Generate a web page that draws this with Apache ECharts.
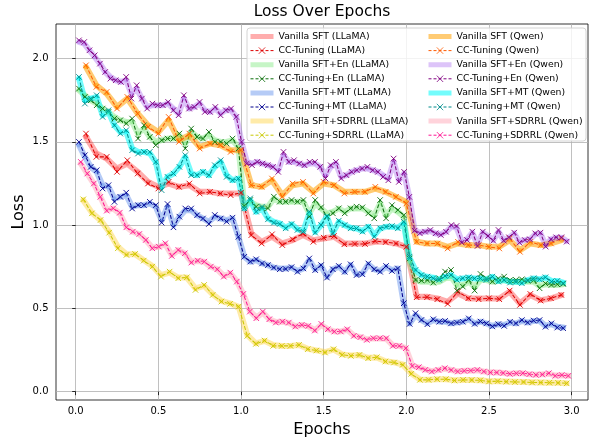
<!DOCTYPE html>
<html><head><meta charset="utf-8">
<script src="https://cdn.jsdelivr.net/npm/echarts@6/dist/echarts.min.js"></script>
<style>html,body{margin:0;padding:0;background:#fff}#c{width:594px;height:441px}</style>
</head><body><div id="c"></div>
<script>
// ---- tick labels ----
const xTicks = [0, 0.5, 1, 1.5, 2, 2.5, 3];
const yTicks = [0, 0.5, 1, 1.5, 2];

// ---- logged-step epoch spans per run: [number of logged points, first epoch, last epoch] ----
const spanSft = [47, 0.0625, 2.9375];
const spanEnQwen = [94, 0.02, 2.97];
const spanMid = [83, 0.02, 2.949];
const spanSdrrlLlama = [57, 0.046, 2.97];
const spanSdrrlQwen = [76, 0.031, 2.98];

// ---- LLaMA ----
const vanSftLlama = [1.53,1.43,1.40,1.34,1.37,1.32,1.26,1.23,1.25,1.23,1.24,1.20,1.20,1.19,1.19,1.19,
 0.95,0.90,0.93,0.89,0.91,0.94,0.91,0.92,0.93,0.89,0.89,0.89,0.90,0.90,0.89,0.87,
 0.57,0.57,0.56,0.54,0.59,0.56,0.56,0.56,0.56,0.60,0.53,0.58,0.55,0.56,0.58];
const ccSftLlama = [1.55,1.41,1.41,1.32,1.39,1.31,1.25,1.22,1.26,1.23,1.25,1.19,1.20,1.19,1.18,1.195,
 0.94,0.89,0.945,0.88,0.915,0.95,0.90,0.925,0.935,0.885,0.887,0.887,0.905,0.898,0.89,0.87,
 0.567,0.567,0.555,0.527,0.601,0.561,0.555,0.561,0.555,0.607,0.521,0.587,0.547,0.561,0.581];
const vanEnLlama = [1.81,1.78,1.75,1.73,1.70,1.68,1.65,1.63,1.62,1.62,1.55,1.58,1.53,1.50,1.51,1.52,1.52,1.54,1.49,1.56,1.53,1.52,1.54,1.51,1.50,1.50,1.51,1.47,
 1.12,1.14,1.12,1.11,1.11,1.16,1.14,1.14,1.14,1.14,1.14,1.07,1.13,1.10,1.07,1.08,1.10,1.08,1.10,1.10,1.10,1.08,1.06,1.13,1.06,1.10,1.08,1.05,
 0.78,0.67,0.66,0.66,0.655,0.66,0.68,0.69,0.64,0.64,0.66,0.63,0.67,0.67,0.66,0.665,0.67,0.66,0.66,0.665,0.66,0.66,0.635,0.645,0.64,0.64,0.645];
const ccEnLlama = [1.82,1.77,1.75,1.72,1.70,1.68,1.64,1.63,1.61,1.64,1.52,1.60,1.53,1.48,1.51,1.52,1.52,1.55,1.46,1.58,1.53,1.52,1.56,1.50,1.50,1.49,1.52,1.46,
 1.115,1.151,1.111,1.101,1.101,1.171,1.141,1.141,1.151,1.141,1.151,1.051,1.151,1.107,1.051,1.071,1.101,1.071,1.101,1.111,1.107,1.071,1.041,1.151,1.041,1.12,1.091,1.06,
 0.80,0.671,0.667,0.67,0.655,0.68,0.721,0.731,0.607,0.631,0.671,0.607,0.707,0.681,0.661,0.68,0.691,0.67,0.671,0.675,0.665,0.67,0.621,0.65,0.641,0.645,0.647];
const vanMtLlama = [1.48,1.41,1.35,1.32,1.24,1.23,1.16,1.17,1.18,1.11,1.12,1.12,1.13,1.11,1.03,1.11,1.00,1.05,1.09,1.09,1.06,1.04,1.02,1.05,1.04,1.03,1.04,0.93,
 0.81,0.78,0.79,0.77,0.76,0.745,0.74,0.74,0.745,0.725,0.74,0.79,0.735,0.755,0.69,0.735,0.75,0.72,0.76,0.705,0.71,0.765,0.735,0.725,0.75,0.73,0.74,0.53,
 0.41,0.46,0.43,0.41,0.43,0.42,0.42,0.41,0.415,0.42,0.435,0.41,0.42,0.41,0.395,0.405,0.40,0.415,0.41,0.425,0.415,0.425,0.425,0.395,0.405,0.39,0.385];
const ccMtLlama = [1.50,1.42,1.35,1.33,1.22,1.24,1.14,1.17,1.195,1.10,1.12,1.12,1.14,1.12,1.015,1.127,0.987,1.051,1.10,1.10,1.06,1.04,1.007,1.061,1.04,1.021,1.045,0.93,
 0.81,0.781,0.795,0.77,0.76,0.745,0.735,0.737,0.748,0.72,0.74,0.80,0.73,0.76,0.685,0.735,0.755,0.72,0.765,0.70,0.705,0.77,0.735,0.72,0.755,0.725,0.74,0.531,
 0.407,0.471,0.431,0.405,0.435,0.42,0.425,0.41,0.415,0.42,0.44,0.407,0.421,0.41,0.392,0.405,0.395,0.42,0.41,0.43,0.415,0.427,0.43,0.39,0.41,0.385,0.381];
const vanSdrrlLlama = [1.15,1.075,1.03,0.96,0.87,0.825,0.825,0.79,0.755,0.70,0.715,0.685,0.685,0.62,0.635,0.585,0.545,0.53,0.51,
 0.34,0.29,0.305,0.28,0.275,0.275,0.28,0.258,0.248,0.238,0.252,0.224,0.218,0.22,0.203,0.205,0.183,0.176,0.163,
 0.11,
 0.073,0.072,0.075,0.074,0.069,0.07,0.07,0.068,0.063,0.063,0.061,0.059,0.058,0.056,0.055,0.054,0.053,0.051];
const ccSdrrlLlama = [1.155,1.071,1.031,0.955,0.861,0.821,0.827,0.787,0.751,0.691,0.721,0.681,0.687,0.611,0.641,0.581,0.541,0.527,0.511,
 0.335,0.287,0.307,0.275,0.275,0.275,0.281,0.255,0.247,0.235,0.255,0.221,0.215,0.221,0.201,0.207,0.181,0.175,0.161,
 0.107,
 0.071,0.071,0.075,0.075,0.067,0.071,0.07,0.068,0.061,0.063,0.06,0.058,0.058,0.055,0.055,0.054,0.053,0.05];

// ---- Qwen ----
const vanSftQwen = [1.95,1.84,1.79,1.71,1.76,1.67,1.60,1.56,1.63,1.51,1.54,1.47,1.49,1.48,1.45,1.45,
 1.24,1.23,1.27,1.18,1.24,1.25,1.20,1.25,1.24,1.20,1.20,1.20,1.22,1.20,1.17,1.14,
 0.90,0.89,0.89,0.87,0.89,0.88,0.88,0.87,0.87,0.91,0.85,0.89,0.88,0.89,0.91];
const ccSftQwen = [1.96,1.83,1.80,1.70,1.77,1.67,1.59,1.55,1.65,1.50,1.55,1.46,1.49,1.48,1.44,1.45,
 1.24,1.23,1.28,1.17,1.25,1.26,1.19,1.26,1.24,1.19,1.20,1.20,1.23,1.20,1.17,1.13,
 0.90,0.89,0.89,0.86,0.90,0.88,0.88,0.87,0.86,0.92,0.84,0.90,0.88,0.89,0.92];
const vanEnQwen = [2.10,2.09,2.05,2.01,1.97,1.92,1.89,1.87,1.86,1.87,1.79,1.82,1.76,1.71,1.72,1.72,1.72,1.73,1.70,1.67,1.76,1.70,1.71,1.73,1.69,1.68,1.70,1.67,1.69,1.69,1.65,
 1.50,
 1.38,1.37,1.38,1.37,1.36,1.35,1.33,1.42,1.38,1.38,1.37,1.36,1.37,1.37,1.35,1.30,1.35,1.37,1.29,1.30,1.32,1.33,1.34,1.34,1.33,1.32,1.30,1.28,1.38,1.27,1.31,
 1.17,
 0.97,0.955,0.96,0.965,0.95,0.945,0.96,0.99,0.985,0.905,0.915,0.955,0.885,0.955,0.935,0.91,0.96,0.91,0.925,0.95,0.90,0.91,0.915,0.945,0.95,0.88,0.915,0.925,0.925,0.905];
const ccEnQwen = [2.11,2.10,2.05,2.02,1.97,1.92,1.88,1.87,1.86,1.89,1.76,1.84,1.76,1.70,1.73,1.72,1.72,1.74,1.69,1.66,1.78,1.70,1.71,1.74,1.68,1.68,1.71,1.66,1.69,1.70,1.65,
 1.50,
 1.37,1.36,1.38,1.37,1.36,1.35,1.32,1.44,1.38,1.39,1.37,1.36,1.38,1.38,1.35,1.28,1.36,1.38,1.28,1.30,1.32,1.33,1.34,1.35,1.33,1.32,1.29,1.27,1.40,1.26,1.32,
 1.17,
 0.967,0.951,0.961,0.971,0.951,0.941,0.96,1.001,0.995,0.895,0.911,0.961,0.875,0.961,0.935,0.907,0.971,0.907,0.927,0.955,0.895,0.911,0.915,0.951,0.955,0.871,0.915,0.927,0.927,0.901];
const vanMtQwen = [1.88,1.75,1.76,1.77,1.66,1.68,1.60,1.56,1.56,1.46,1.44,1.44,1.43,1.38,1.23,1.29,1.31,1.35,1.41,1.31,1.30,1.32,1.30,1.35,1.38,1.30,1.27,1.28,
 1.10,1.15,1.08,1.10,1.04,1.02,1.01,0.985,1.005,0.975,0.965,1.07,0.96,1.00,1.05,0.955,1.02,1.00,0.985,0.98,0.965,0.99,0.94,0.98,0.99,0.99,0.985,1.01,
 0.80,0.73,0.70,0.69,0.685,0.675,0.69,0.70,0.675,0.68,0.685,0.68,0.68,0.675,0.69,0.665,0.67,0.66,0.66,0.655,0.67,0.68,0.675,0.685,0.665,0.665,0.655];
const ccMtQwen = [1.89,1.73,1.76,1.78,1.65,1.69,1.60,1.55,1.57,1.45,1.43,1.44,1.44,1.38,1.21,1.29,1.31,1.35,1.42,1.30,1.30,1.32,1.30,1.36,1.39,1.29,1.27,1.28,
 1.101,1.161,1.081,1.111,1.035,1.015,1.007,0.981,1.007,0.971,0.961,1.081,0.955,1.001,1.055,0.951,1.027,1.001,0.981,0.98,0.961,0.991,0.931,0.981,0.991,0.995,0.981,1.021,
 0.811,0.731,0.701,0.691,0.681,0.671,0.695,0.701,0.671,0.681,0.687,0.68,0.68,0.671,0.691,0.661,0.67,0.655,0.66,0.651,0.67,0.681,0.675,0.687,0.661,0.665,0.651];
const vanSdrrlQwen = [1.37,1.31,1.25,1.17,1.09,1.10,1.07,0.99,0.96,0.945,0.91,0.865,0.87,0.885,0.82,0.85,0.83,0.78,0.785,0.78,0.75,0.735,0.695,0.71,0.665,
 0.585,0.485,0.445,0.475,0.435,0.418,0.42,0.413,0.393,0.40,0.393,0.37,0.40,0.375,0.362,0.362,0.372,0.338,0.328,0.314,0.32,0.32,0.318,0.278,0.275,0.262,
 0.155,0.146,0.132,0.123,0.13,0.138,0.13,0.122,0.125,0.126,0.129,0.121,0.116,0.115,0.112,0.108,0.11,0.11,0.105,0.102,0.104,0.108,0.097,0.099,0.096];
const ccSdrrlQwen = [1.38,1.31,1.25,1.17,1.087,1.101,1.075,0.987,0.961,0.947,0.911,0.861,0.871,0.891,0.815,0.851,0.831,0.775,0.787,0.781,0.751,0.735,0.691,0.715,0.661,
 0.587,0.481,0.441,0.481,0.435,0.415,0.421,0.415,0.391,0.401,0.395,0.367,0.407,0.375,0.361,0.361,0.375,0.335,0.327,0.311,0.321,0.321,0.321,0.275,0.275,0.261,
 0.154,0.147,0.131,0.121,0.131,0.141,0.13,0.121,0.125,0.127,0.131,0.121,0.115,0.115,0.112,0.107,0.11,0.111,0.105,0.101,0.103,0.111,0.095,0.1,0.095];

// ---- build ----
function epochs(span){ const [n,a,b]=span; const r=[]; for(let i=0;i<n;i++) r.push(a+(b-a)*i/(n-1)); return r; }
function pairs(span, ys){ const xs=epochs(span); return ys.map((y,i)=>[xs[i], y]); }
const XMARK = 'path://M0,0L10,10M10,0L0,10';
// thick translucent swatch (with invisible bound points so it sits centred in the 23x8 legend box)
const BAND = 'path://M0,0L0.01,0L0,0ZM0,1.5L23,1.5L23,6.5L0,6.5ZM0,8L0.01,8L0,8Z';
const FONT = 'DejaVu Sans';

const runs = [
  ['Vanilla SFT (LLaMA)', 'v', 'rgba(255,40,40,0.38)', spanSft, vanSftLlama],
  ['CC-Tuning (LLaMA)', 'c', '#dd0000', spanSft, ccSftLlama],
  ['Vanilla SFT+En (LLaMA)', 'v', 'rgba(120,230,120,0.42)', spanMid, vanEnLlama],
  ['CC-Tuning+En (LLaMA)', 'c', '#0b6e0b', spanMid, ccEnLlama],
  ['Vanilla SFT+MT (LLaMA)', 'v', 'rgba(90,140,235,0.45)', spanMid, vanMtLlama],
  ['CC-Tuning+MT (LLaMA)', 'c', '#00008f', spanMid, ccMtLlama],
  ['Vanilla SFT+SDRRL (LLaMA)', 'v', 'rgba(255,205,40,0.4)', spanSdrrlLlama, vanSdrrlLlama],
  ['CC-Tuning+SDRRL (LLaMA)', 'c', '#c8c800', spanSdrrlLlama, ccSdrrlLlama],
  ['Vanilla SFT (Qwen)', 'v', 'rgba(255,160,0,0.55)', spanSft, vanSftQwen],
  ['CC-Tuning (Qwen)', 'c', '#ff5a00', spanSft, ccSftQwen],
  ['Vanilla SFT+En (Qwen)', 'v', 'rgba(165,100,240,0.38)', spanEnQwen, vanEnQwen],
  ['CC-Tuning+En (Qwen)', 'c', '#800080', spanEnQwen, ccEnQwen],
  ['Vanilla SFT+MT (Qwen)', 'v', 'rgba(0,250,250,0.55)', spanMid, vanMtQwen],
  ['CC-Tuning+MT (Qwen)', 'c', '#008b8b', spanMid, ccMtQwen],
  ['Vanilla SFT+SDRRL (Qwen)', 'v', 'rgba(255,175,190,0.55)', spanSdrrlQwen, vanSdrrlQwen],
  ['CC-Tuning+SDRRL (Qwen)', 'c', '#ff1493', spanSdrrlQwen, ccSdrrlQwen]
];

const series = runs.map(([name, kind, color, span, ys]) => {
  const base = { name, type:'line', data: pairs(span, ys), animation:false, showAllSymbol:true,
    emphasis:{disabled:true}, z:2 };
  if (kind === 'v') {
    return Object.assign(base, { symbol:'circle', symbolSize:4.5,
      itemStyle:{color:color, borderWidth:0}, lineStyle:{color:color, width:6, join:'round', cap:'round'} });
  }
  return Object.assign(base, { symbol:XMARK, symbolSize:5.5,
    itemStyle:{color:color, borderColor:color, borderWidth:0.9},
    lineStyle:{color:color, width:1.05, type:[4,1.8]} });
});

function legendData(list){
  return list.map(([name, kind, color]) => kind === 'v'
    ? {name, icon:BAND, itemStyle:{color:color, borderWidth:0}}
    : {name, itemStyle:{color:color, borderColor:color, borderWidth:0.8}, lineStyle:{width:1, type:[3,2]}});
}
const legendBase = { orient:'vertical', top:32, itemWidth:23, itemHeight:8, itemGap:5.1, padding:0,
  textStyle:{fontFamily:FONT, fontSize:9.3, color:'#000'}, selectedMode:false };

const chart = echarts.init(document.getElementById('c'), null, {renderer:'canvas'});
chart.setOption({
  animation:false,
  backgroundColor:'#fff',
  grid:{left:56, right:6, top:24, bottom:41, show:true, borderColor:'#000', borderWidth:0.8, backgroundColor:'transparent'},
  xAxis:{type:'value', min:-0.119, max:3.099,
    axisLine:{show:false},
    axisTick:{show:true, inside:false, length:3.5, lineStyle:{color:'#000', width:0.8}, customValues:xTicks},
    axisLabel:{margin:6, fontFamily:FONT, fontSize:10, color:'#000', customValues:xTicks, formatter:v=>v.toFixed(1)},
    splitLine:{show:true, lineStyle:{color:'#b0b0b0', width:0.8}}},
  yAxis:{type:'value', min:-0.05, max:2.208,
    axisLine:{show:false},
    axisTick:{show:true, inside:false, length:3.5, lineStyle:{color:'#000', width:0.8}, customValues:yTicks},
    axisLabel:{margin:7.5, fontFamily:FONT, fontSize:10, color:'#000', customValues:yTicks, formatter:v=>v.toFixed(1)},
    splitLine:{show:true, lineStyle:{color:'#b0b0b0', width:0.8}}},
  legend:[
    Object.assign({}, legendBase, {left:250, data:legendData(runs.slice(0,8))}),
    Object.assign({}, legendBase, {left:428, data:legendData(runs.slice(8))})
  ],
  graphic:[
    {type:'rect', z:3, shape:{x:247, y:28, width:339, height:113, r:3},
      style:{fill:'rgba(255,255,255,0.8)', stroke:'#d4d4d4', lineWidth:1}},
    {type:'text', x:322, y:12, z:5, style:{text:'Loss Over Epochs', font:'15.5px "DejaVu Sans"', fill:'#000', textAlign:'center', textVerticalAlign:'middle', align:'center', verticalAlign:'middle'}},
    {type:'text', x:322, y:430, z:5, style:{text:'Epochs', font:'16px "DejaVu Sans"', fill:'#000', textAlign:'center', textVerticalAlign:'middle', align:'center', verticalAlign:'middle'}},
    {type:'text', x:19, y:212, z:5, rotation:Math.PI/2, style:{text:'Loss', font:'16px "DejaVu Sans"', fill:'#000', textAlign:'center', textVerticalAlign:'middle', align:'center', verticalAlign:'middle'}}
  ],
  series
});
</script>
</body></html>
